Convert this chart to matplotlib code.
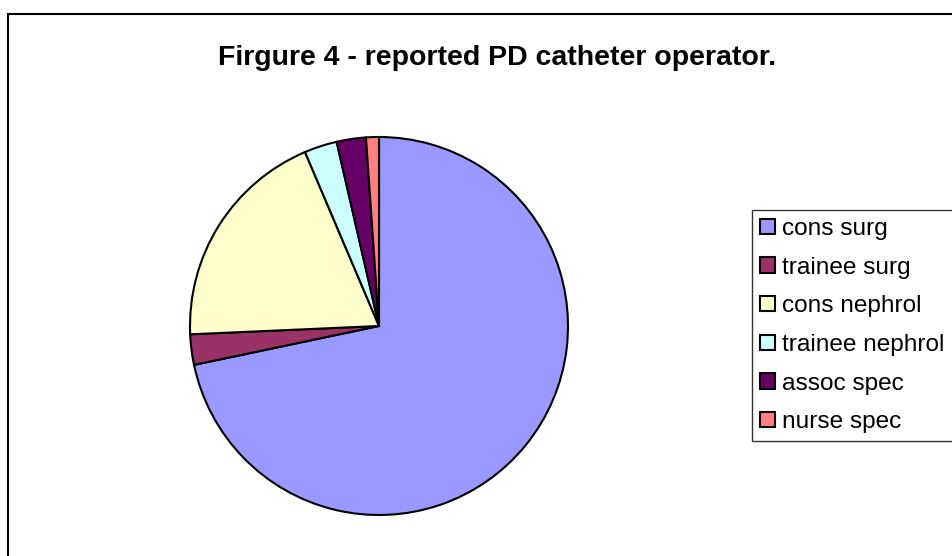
import numpy as np
import matplotlib.pyplot as plt
from matplotlib.patches import Rectangle

plt.rcParams['font.family'] = ['Liberation Sans', 'DejaVu Sans']

labels = ['cons surg', 'trainee surg', 'cons nephrol', 'trainee nephrol', 'assoc spec', 'nurse spec']
shares = [71.7, 2.6, 19.3, 2.8, 2.5, 1.1]
colors = ['#9999FF', '#993366', '#FFFFCC', '#CCFFFF', '#660066', '#FF8080']
title = 'Firgure 4 - reported PD catheter operator.'

W, H = 952, 556
fig = plt.figure(figsize=(W / 100, H / 100), dpi=100)

# outer chart-area frame (runs off the right and bottom edges)
fig.patches.append(Rectangle((8 / W, -0.1), 1.2, 1 - 14 / H + 0.1, transform=fig.transFigure,
                             fill=False, edgecolor='black', linewidth=1.5))

fig.text(497 / W, 1 - 58 / H, title, ha='center', va='center',
         fontsize=20.5, fontweight='bold')

# pie: centre (379, 326), radius 189 px
cx, cy, r = 379, 326, 189
ax = fig.add_axes([(cx - r) / W, 1 - (cy + r) / H, 2 * r / W, 2 * r / H])
wedges, _ = ax.pie(shares, colors=colors, startangle=90, counterclock=False,
                   wedgeprops=dict(edgecolor='black', linewidth=1.5))
ax.set_xlim(-1, 1)
ax.set_ylim(-1, 1)
ax.set_aspect('equal')

leg = fig.legend(wedges, labels, loc='upper left',
                 bbox_to_anchor=(752 / W, 1 - 210 / H), borderaxespad=0,
                 fontsize=17.6, frameon=True, fancybox=False, edgecolor='black',
                 handlelength=0.6, handleheight=0.6, handletextpad=0.3,
                 labelspacing=0.68, borderpad=0.33)
leg.get_frame().set_linewidth(1.0)
for h in leg.legend_handles:
    h.set_linewidth(1.5)

fig.savefig('out.png', dpi=100)
